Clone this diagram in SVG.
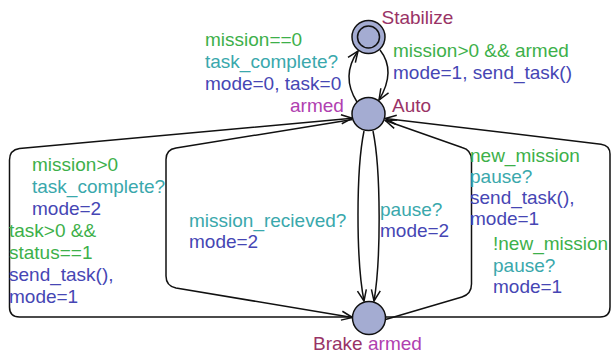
<svg xmlns="http://www.w3.org/2000/svg" width="611" height="356" viewBox="0 0 611 356">
  <style>
    text { font-family: "Liberation Sans", Arial, sans-serif; font-size: 19px; }
    .loc { fill: #a4acd2; stroke: #111; stroke-width: 1.5; }
    .edge { fill: none; stroke: #111; stroke-width: 1.5; marker-end: url(#arrow); }
    .name { fill: #993366; }
    .inv { fill: #b040b0; }
    .guard { fill: #3db04a; }
    .sync { fill: #3aa8ac; }
    .assign { fill: #4646b4; }
  </style>
  <defs>
    <marker id="arrow" markerUnits="userSpaceOnUse" markerWidth="14" markerHeight="12" viewBox="-12 -6 14 12" refX="0" refY="0" orient="auto">
      <path d="M -11 -4.5 L 0 0 L -11 4.5" fill="none" stroke="#111" stroke-width="1.5"/>
    </marker>
  </defs>
  <rect width="611" height="356" fill="#fff"/>

  <!-- transitions -->
  <g id="edges">
    <!-- Auto -> Stabilize -->
    <path class="edge" d="M 357 102 Q 340.5 76 358 51"/>
    <!-- Stabilize -> Auto -->
    <path class="edge" d="M 380 50 Q 396.5 71 379 100"/>
    <!-- Auto -> Brake (mission_recieved?) -->
    <path class="edge" d="M 364 131 C 356 170 356 260 364 301"/>
    <!-- Auto -> Brake (pause?) -->
    <path class="edge" d="M 373 131 C 381 170 381 260 374 301"/>
    <!-- Brake -> Auto, outer left loop -->
    <path class="edge" d="M 352.5 317 L 19.5 317 Q 9.5 317 9.5 307 L 9.5 160 Q 9.5 150 19.5 148.5 L 352.3 118.3"/>
    <!-- Auto -> Brake, inner left loop -->
    <path class="edge" d="M 352.5 119.5 L 176 148 Q 166 149.5 166 159.5 L 166 276 Q 166 286 176 288 L 352.5 317.5"/>
    <!-- Brake -> Auto, outer right loop -->
    <path class="edge" d="M 385.5 317 L 600 317 Q 610 317 610 307 L 610 154 Q 610 145.5 601 144.2 L 385.3 118.5"/>
    <!-- Brake -> Auto, inner right loop -->
    <path class="edge" d="M 385.5 319.5 L 462 297 Q 471.5 294 471.5 284 L 471.5 160 Q 471.5 150 462 147.5 L 385.3 120.5"/>
  </g>

  <g id="Stabilize">
    <circle class="loc" cx="368.5" cy="37" r="16.5"/>
    <circle cx="368.5" cy="37" r="11" fill="none" stroke="#111" stroke-width="1.5"/>
    <text class="name" x="381.5" y="24">Stabilize</text>
  </g>
  <g id="Auto">
    <circle class="loc" cx="368.5" cy="114" r="16.5"/>
    <text class="inv" x="290" y="112">armed</text>
    <text class="name" x="392" y="112">Auto</text>
  </g>
  <g id="Brake">
    <circle class="loc" cx="369" cy="318" r="16.5"/>
    <text class="name" x="313" y="350">Brake</text>
    <text class="inv" x="368" y="350">armed</text>
  </g>

  <!-- transition labels -->
  <g id="labels">
    <text class="guard" x="205" y="46">mission==0</text>
    <text class="sync" x="205" y="68">task_complete?</text>
    <text class="assign" x="205" y="90">mode=0, task=0</text>

    <text class="guard" x="393" y="57">mission&gt;0 &amp;&amp; armed</text>
    <text class="assign" x="393" y="79">mode=1, send_task()</text>

    <text class="guard" x="32" y="171">mission&gt;0</text>
    <text class="sync" x="32" y="193">task_complete?</text>
    <text class="assign" x="32" y="215">mode=2</text>

    <text class="guard" x="9" y="237">task&gt;0 &amp;&amp;</text>
    <text class="guard" x="9" y="259">status==1</text>
    <text class="assign" x="9" y="281">send_task(),</text>
    <text class="assign" x="9" y="303">mode=1</text>

    <text class="sync" x="189" y="226.5">mission_recieved?</text>
    <text class="assign" x="189" y="248">mode=2</text>

    <text class="sync" x="380" y="216">pause?</text>
    <text class="assign" x="380" y="237">mode=2</text>

    <text class="guard" x="470" y="162">new_mission</text>
    <text class="sync" x="470" y="183">pause?</text>
    <text class="assign" x="470" y="204">send_task(),</text>
    <text class="assign" x="470" y="225">mode=1</text>

    <text class="guard" x="493" y="250">!new_mission</text>
    <text class="sync" x="493" y="272">pause?</text>
    <text class="assign" x="493" y="293">mode=1</text>
  </g>
</svg>
